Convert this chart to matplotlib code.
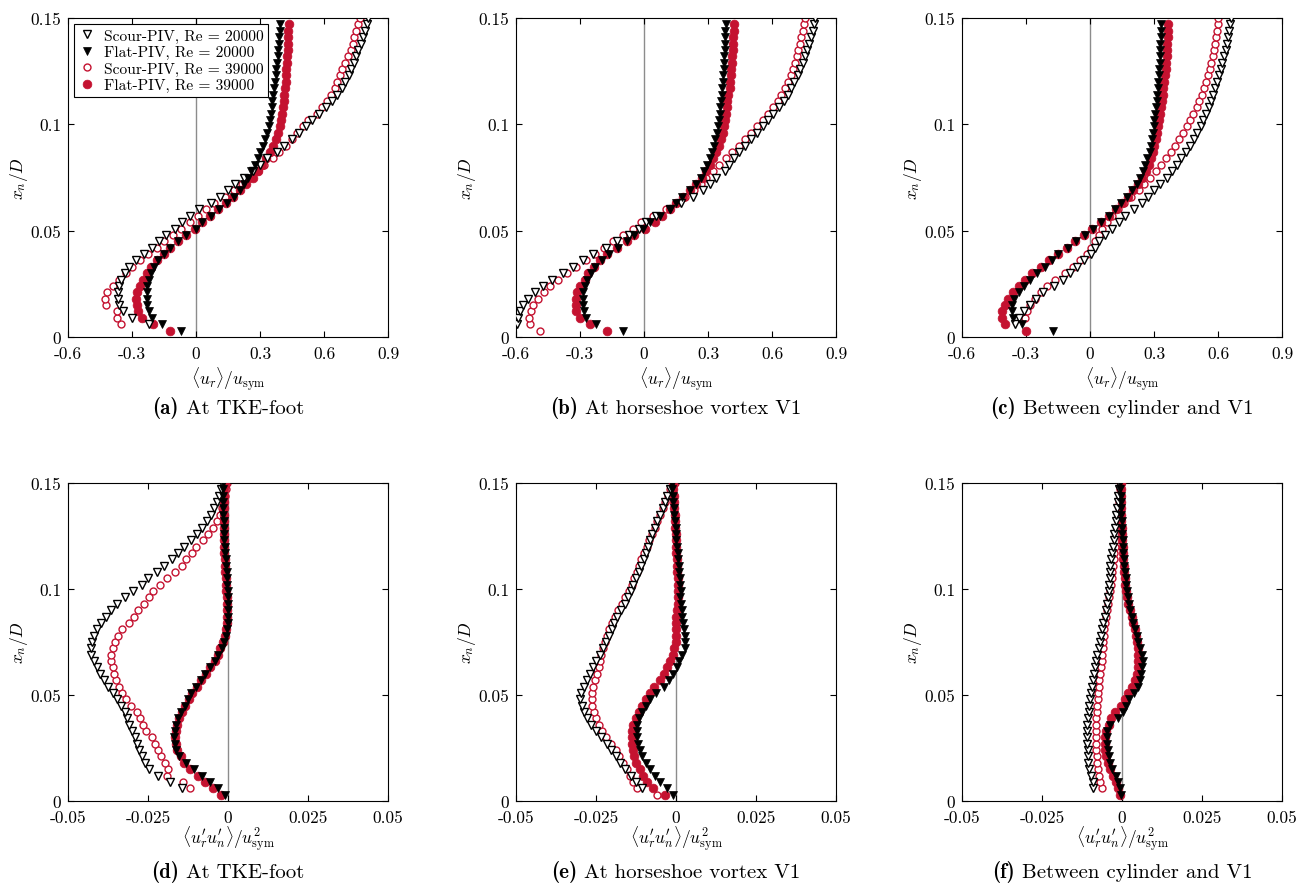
import numpy as np
import matplotlib
matplotlib.use('Agg')
import matplotlib.pyplot as plt
from matplotlib.offsetbox import TextArea, HPacker, AnnotationBbox

plt.rcParams['font.family'] = 'serif'
plt.rcParams['font.serif'] = ['cmr10']
plt.rcParams['mathtext.fontset'] = 'cm'
plt.rcParams['axes.unicode_minus'] = False
plt.rcParams['axes.formatter.use_mathtext'] = True

nan = np.nan

# wall-normal positions x_n/D (shared grid)
xn = [0.003, 0.006, 0.009, 0.012, 0.015, 0.018, 0.021, 0.024, 0.027, 0.030,
      0.033, 0.036, 0.039, 0.042, 0.045, 0.048, 0.051, 0.054, 0.057, 0.060,
      0.063, 0.066, 0.069, 0.072, 0.075, 0.078, 0.081, 0.084, 0.087, 0.090,
      0.093, 0.096, 0.099, 0.102, 0.105, 0.108, 0.111, 0.114, 0.117, 0.120,
      0.123, 0.126, 0.129, 0.132, 0.135, 0.138, 0.141, 0.144, 0.147, 0.150]

# (a) <u_r>/u_sym at TKE-foot
a_scour20 = [nan, -0.22, -0.3, -0.34, -0.362, -0.367, -0.366, -0.36, -0.35, -0.335,
             -0.312, -0.28, -0.245, -0.208, -0.175, -0.14, -0.1, -0.065, -0.028, 0.015,
             0.07, 0.112, 0.148, 0.185, 0.225, 0.265, 0.3, 0.335, 0.378, 0.412,
             0.45, 0.485, 0.515, 0.545, 0.578, 0.61, 0.638, 0.662, 0.684, 0.698,
             0.715, 0.728, 0.74, 0.751, 0.761, 0.772, 0.784, 0.793, 0.801, 0.808]
a_flat20 = [-0.07, -0.16, -0.205, -0.22, -0.228, -0.232, -0.232, -0.228, -0.222, -0.212,
            -0.198, -0.178, -0.152, -0.12, -0.085, -0.045, 0.0, 0.03, 0.07, 0.11,
            0.145, 0.18, 0.205, 0.225, 0.245, 0.26, 0.275, 0.29, 0.302, 0.315,
            0.325, 0.333, 0.34, 0.345, 0.35, 0.354, 0.358, 0.362, 0.366, 0.37,
            0.374, 0.377, 0.38, 0.383, 0.386, 0.389, 0.391, 0.393, 0.395, nan]
a_scour39 = [nan, -0.35, -0.372, -0.372, -0.42, -0.427, -0.415, -0.39, -0.36, -0.33,
             -0.3, -0.262, -0.224, -0.184, -0.148, -0.11, -0.072, -0.03, 0.01, 0.045,
             0.085, 0.135, 0.18, 0.215, 0.255, 0.29, 0.32, 0.36, 0.39, 0.42,
             0.45, 0.475, 0.5, 0.527, 0.565, 0.59, 0.613, 0.635, 0.652, 0.662,
             0.673, 0.685, 0.7, 0.714, 0.727, 0.735, 0.742, 0.748, 0.758, 0.769]
a_flat39 = [-0.12, -0.2, -0.255, -0.27, -0.276, -0.28, -0.275, -0.264, -0.25, -0.232,
            -0.21, -0.182, -0.152, -0.12, -0.085, -0.045, -0.005, 0.028, 0.065, 0.105,
            0.14, 0.175, 0.205, 0.235, 0.265, 0.29, 0.31, 0.33, 0.348, 0.362,
            0.374, 0.384, 0.392, 0.398, 0.403, 0.407, 0.411, 0.414, 0.417, 0.42,
            0.422, 0.424, 0.426, 0.428, 0.429, 0.43, 0.432, 0.433, 0.434, nan]

# (b) <u_r>/u_sym at horseshoe vortex V1
b_scour20 = [nan, -0.595, -0.59, -0.582, -0.565, -0.542, -0.512, -0.473, -0.43, -0.38,
             -0.333, -0.288, -0.239, -0.178, -0.128, -0.072, -0.024, 0.011, 0.058, 0.12,
             0.172, 0.23, 0.275, 0.31, 0.339, 0.378, 0.4, 0.424, 0.447, 0.472,
             0.5, 0.532, 0.558, 0.582, 0.605, 0.632, 0.655, 0.673, 0.688, 0.704,
             0.72, 0.732, 0.744, 0.754, 0.764, 0.774, 0.782, 0.79, 0.796, 0.802]
b_flat20 = [-0.1, -0.223, -0.27, -0.28, -0.285, -0.286, -0.284, -0.278, -0.267, -0.25,
            -0.228, -0.198, -0.163, -0.12, -0.08, -0.045, -0.005, 0.027, 0.075, 0.12,
            0.148, 0.18, 0.215, 0.245, 0.269, 0.283, 0.296, 0.309, 0.318, 0.327,
            0.335, 0.341, 0.346, 0.35, 0.354, 0.358, 0.361, 0.364, 0.367, 0.37,
            0.372, 0.374, 0.375, 0.377, 0.378, 0.379, 0.38, 0.382, 0.383, nan]
b_scour39 = [-0.486, -0.535, -0.539, -0.532, -0.518, -0.498, -0.471, -0.442, -0.403, -0.362,
             -0.318, -0.272, -0.231, -0.188, -0.145, -0.098, -0.052, -0.012, 0.042, 0.105,
             0.152, 0.193, 0.235, 0.266, 0.292, 0.322, 0.35, 0.385, 0.412, 0.447,
             0.475, 0.503, 0.53, 0.56, 0.583, 0.605, 0.626, 0.644, 0.66, 0.675,
             0.688, 0.698, 0.707, 0.715, 0.722, 0.73, 0.738, 0.743, 0.748, 0.753]
b_flat39 = [-0.173, -0.255, -0.3, -0.317, -0.32, -0.318, -0.313, -0.302, -0.278, -0.262,
            -0.235, -0.205, -0.172, -0.128, -0.08, -0.045, 0.003, 0.05, 0.085, 0.12,
            0.152, 0.185, 0.215, 0.245, 0.27, 0.29, 0.31, 0.325, 0.338, 0.35,
            0.36, 0.368, 0.374, 0.379, 0.383, 0.387, 0.391, 0.395, 0.402, 0.404,
            0.407, 0.41, 0.412, 0.414, 0.416, 0.418, 0.419, 0.42, 0.422, nan]

# (c) <u_r>/u_sym between cylinder and V1
c_scour20 = [nan, -0.352, -0.335, -0.31, -0.283, -0.255, -0.22, -0.17, -0.125, -0.092,
             -0.06, -0.028, 0.005, 0.025, 0.044, 0.068, 0.103, 0.134, 0.165, 0.204,
             0.242, 0.271, 0.301, 0.33, 0.359, 0.384, 0.406, 0.428, 0.448, 0.469,
             0.486, 0.503, 0.518, 0.532, 0.546, 0.557, 0.568, 0.577, 0.586, 0.594,
             0.603, 0.612, 0.621, 0.63, 0.637, 0.643, 0.648, 0.653, 0.657, 0.661]
c_flat20 = [-0.172, -0.32, -0.359, -0.365, -0.365, -0.354, -0.334, -0.31, -0.283, -0.249,
            -0.212, -0.178, -0.148, -0.105, -0.066, -0.025, 0.013, 0.053, 0.09, 0.117,
            0.146, 0.172, 0.197, 0.219, 0.234, 0.249, 0.259, 0.269, 0.28, 0.286,
            0.291, 0.296, 0.299, 0.302, 0.306, 0.309, 0.312, 0.315, 0.318, 0.32,
            0.322, 0.324, 0.326, 0.327, 0.328, 0.33, 0.331, 0.332, 0.333, nan]
c_scour39 = [nan, nan, -0.305, -0.295, -0.28, -0.258, -0.232, -0.203, -0.163, -0.116,
             -0.078, -0.045, -0.016, 0.005, 0.023, 0.04, 0.056, 0.078, 0.103, 0.13,
             0.16, 0.193, 0.229, 0.255, 0.28, 0.311, 0.335, 0.358, 0.378, 0.397,
             0.419, 0.437, 0.455, 0.47, 0.484, 0.5, 0.512, 0.523, 0.534, 0.545,
             0.554, 0.562, 0.569, 0.576, 0.582, 0.587, 0.592, 0.595, 0.598, 0.6]
c_flat39 = [-0.302, -0.398, -0.411, -0.414, -0.4, -0.383, -0.36, -0.333, -0.305, -0.27,
            -0.232, -0.192, -0.152, -0.11, -0.068, -0.028, 0.01, 0.05, 0.088, 0.12,
            0.15, 0.178, 0.203, 0.226, 0.245, 0.261, 0.275, 0.285, 0.294, 0.301,
            0.308, 0.314, 0.319, 0.324, 0.328, 0.332, 0.336, 0.34, 0.344, 0.348,
            0.351, 0.354, 0.357, 0.359, 0.361, 0.363, 0.365, 0.366, 0.367, nan]

# (d) <u_r' u_n'>/u_sym^2 at TKE-foot
d_scour20 = [nan, -0.0145, -0.018, -0.022, -0.0248, -0.026, -0.0269, -0.0277, -0.0284, -0.0291,
             -0.03, -0.0308, -0.0315, -0.0323, -0.0334, -0.0346, -0.036, -0.0374, -0.0388, -0.04,
             -0.0409, -0.042, -0.0427, -0.0428, -0.0424, -0.0418, -0.0408, -0.0396, -0.0381, -0.0365,
             -0.0347, -0.0322, -0.0298, -0.027, -0.025, -0.0223, -0.02, -0.0176, -0.0157, -0.0137,
             -0.0115, -0.0096, -0.0081, -0.0066, -0.0054, -0.0043, -0.0034, -0.0027, -0.0022, -0.0018]
d_flat20 = [-0.0008, -0.003, -0.0056, -0.0082, -0.0106, -0.0132, -0.0152, -0.0162, -0.0167, -0.0168,
            -0.0167, -0.0163, -0.0156, -0.0146, -0.0135, -0.0125, -0.0116, -0.01, -0.0085, -0.0071,
            -0.0057, -0.004, -0.003, -0.002, -0.0012, -0.0006, -0.0003, -0.0001, 0.0, 0.0,
            0.0, 0.0, 0.0, -0.0002, -0.0003, -0.0004, -0.0005, -0.0007, -0.0008, -0.001,
            -0.0011, -0.0012, -0.0013, -0.0014, -0.0015, -0.0015, -0.0015, -0.0015, -0.0015, -0.0015]
d_scour39 = [nan, -0.0119, -0.014, -0.019, -0.0187, -0.0198, -0.0208, -0.0218, -0.0227, -0.0236,
             -0.0255, -0.0266, -0.0276, -0.0285, -0.0302, -0.0318, -0.0332, -0.0341, -0.0349, -0.0355,
             -0.036, -0.0365, -0.0366, -0.036, -0.0354, -0.0344, -0.033, -0.031, -0.0295, -0.028,
             -0.0263, -0.0248, -0.0234, -0.0211, -0.0192, -0.0165, -0.0145, -0.013, -0.0114, -0.0101,
             -0.0079, -0.0062, -0.0047, -0.0035, -0.0024, -0.0018, -0.0012, -0.0009, -0.0006, -0.0004]
d_flat39 = [-0.0022, -0.0046, -0.0072, -0.0095, -0.0118, -0.0138, -0.0148, -0.0158, -0.0163, -0.0165,
            -0.0164, -0.016, -0.0152, -0.0143, -0.0133, -0.0123, -0.0113, -0.0098, -0.0083, -0.0068,
            -0.0055, -0.0042, -0.0032, -0.0024, -0.0016, -0.001, -0.0006, -0.0004, -0.0003, -0.0003,
            -0.0003, -0.0004, -0.0005, -0.0006, -0.0007, -0.0008, -0.0009, -0.001, -0.0011, -0.0012,
            -0.0012, -0.0013, -0.0013, -0.0013, -0.0013, -0.0012, -0.0012, -0.0012, -0.0011, -0.001]

# (e) <u_r' u_n'>/u_sym^2 at horseshoe vortex V1
e_scour20 = [nan, -0.0105, -0.0125, -0.014, -0.016, -0.0176, -0.0188, -0.0202, -0.0217, -0.0235,
             -0.025, -0.0265, -0.0278, -0.0287, -0.0295, -0.03, -0.0298, -0.0288, -0.0279, -0.0268,
             -0.0259, -0.0249, -0.0238, -0.0228, -0.0219, -0.021, -0.0201, -0.0193, -0.0183, -0.0171,
             -0.0159, -0.015, -0.0141, -0.0133, -0.0124, -0.0116, -0.0108, -0.0101, -0.0094, -0.0088,
             -0.0082, -0.0075, -0.0067, -0.0058, -0.005, -0.0042, -0.0034, -0.0027, -0.0019, -0.0012]
e_flat20 = [-0.0009, -0.0027, -0.005, -0.0067, -0.0081, -0.0095, -0.0105, -0.0113, -0.0119, -0.0122,
            -0.0123, -0.0122, -0.0115, -0.0105, -0.0094, -0.0081, -0.0063, -0.0039, -0.0022, -0.001,
            0.0002, 0.001, 0.002, 0.0028, 0.0029, 0.0027, 0.0025, 0.0022, 0.002, 0.0018,
            0.0015, 0.0014, 0.0016, 0.0014, 0.0012, 0.001, 0.0009, 0.0007, 0.0005, 0.0003,
            0.0001, 0.0, -0.0001, -0.0003, -0.0005, -0.0007, -0.0008, -0.001, -0.0011, -0.0012]
e_scour39 = [-0.006, -0.0123, -0.0133, -0.0144, -0.0154, -0.0165, -0.0177, -0.0188, -0.0203, -0.0218,
             -0.0231, -0.0242, -0.0249, -0.0257, -0.0262, -0.0263, -0.0263, -0.026, -0.0252, -0.0246,
             -0.0242, -0.0237, -0.0233, -0.0228, -0.0222, -0.0215, -0.0208, -0.0201, -0.0191, -0.0182,
             -0.017, -0.0158, -0.0147, -0.0139, -0.0131, -0.0123, -0.0117, -0.011, -0.0101, -0.0092,
             -0.0083, -0.0075, -0.0066, -0.0058, -0.005, -0.0041, -0.0033, -0.0026, -0.002, -0.0002]
e_flat39 = [-0.0035, -0.0072, -0.009, -0.0102, -0.0112, -0.0124, -0.013, -0.0134, -0.0137, -0.0138,
            -0.0137, -0.0133, -0.0125, -0.0115, -0.0105, -0.0094, -0.0082, -0.007, -0.005, -0.0038,
            -0.0029, -0.0018, -0.001, -0.0005, 0.0, 0.0, 0.0, 0.0, 0.0, 0.0002,
            0.0005, 0.0006, 0.0006, 0.0006, 0.0005, 0.0004, 0.0003, 0.0002, 0.0001, 0.0,
            0.0, -0.0001, -0.0002, -0.0003, -0.0004, -0.0005, -0.0006, -0.0007, -0.0008, -0.0008]

# (f) <u_r' u_n'>/u_sym^2 between cylinder and V1
f_scour20 = [nan, -0.0092, -0.009, -0.0097, -0.0102, -0.0105, -0.0105, -0.0107, -0.0108, -0.011,
             -0.0109, -0.0108, -0.0106, -0.0104, -0.0102, -0.0099, -0.0096, -0.0093, -0.009, -0.0087,
             -0.0083, -0.008, -0.0077, -0.0073, -0.0069, -0.0066, -0.0062, -0.0058, -0.0054, -0.005,
             -0.0047, -0.0044, -0.0042, -0.004, -0.0038, -0.0037, -0.0036, -0.0033, -0.003, -0.0028,
             -0.0026, -0.0024, -0.0022, -0.002, -0.0018, -0.0016, -0.0014, -0.0012, -0.001, -0.0009]
f_flat20 = [-0.0004, -0.0006, -0.0012, -0.0019, -0.0032, -0.0037, -0.004, -0.0044, -0.0047, -0.0048,
            -0.0046, -0.0036, -0.0014, 0.0002, 0.0013, 0.0023, 0.0037, 0.0049, 0.0055, 0.006,
            0.0063, 0.0065, 0.0062, 0.0056, 0.0051, 0.0046, 0.004, 0.0035, 0.003, 0.0026,
            0.0021, 0.0018, 0.0015, 0.0013, 0.0011, 0.0009, 0.0007, 0.0005, 0.0004, 0.0003,
            0.0002, 0.0001, 0.0, -0.0001, -0.0002, -0.0003, -0.0003, -0.0004, -0.0005, -0.0005]
f_scour39 = [nan, -0.0063, -0.0068, -0.0072, -0.0075, -0.0077, -0.0079, -0.0081, -0.0082, -0.0082,
             -0.0082, -0.0082, -0.0081, -0.0079, -0.0078, -0.0076, -0.0074, -0.0072, -0.0071, -0.0069,
             -0.0066, -0.0064, -0.0062, -0.006, -0.0059, -0.0057, -0.0055, -0.0052, -0.0049, -0.0046,
             -0.0043, -0.004, -0.0037, -0.0034, -0.0032, -0.003, -0.0028, -0.0026, -0.0024, -0.0022,
             -0.002, -0.0018, -0.0016, -0.0014, -0.0012, -0.001, -0.0008, -0.0006, -0.0005, -0.0004]
f_flat39 = [-0.0005, -0.0012, -0.002, -0.0029, -0.0037, -0.0045, -0.005, -0.0052, -0.0053, -0.0053,
            -0.005, -0.0042, -0.0034, -0.0022, -0.0004, 0.0009, 0.0019, 0.003, 0.004, 0.0046,
            0.0049, 0.0051, 0.0051, 0.0049, 0.0047, 0.0045, 0.0041, 0.0035, 0.003, 0.0026,
            0.002, 0.0016, 0.0013, 0.001, 0.0008, 0.0006, 0.0005, 0.0004, 0.0003, 0.0002,
            0.0001, 0.0, -0.0001, -0.0002, -0.0002, -0.0003, -0.0003, -0.0004, -0.0004, -0.0004]

captions = ['At TKE-foot', 'At horseshoe vortex V1', 'Between cylinder and V1']
letters = ['a', 'b', 'c', 'd', 'e', 'f']

mean_ticks = [-0.6, -0.3, 0, 0.3, 0.6, 0.9]
mean_ticklabels = ['-0.6', '-0.3', '0', '0.3', '0.6', '0.9']
stress_ticks = [-0.05, -0.025, 0, 0.025, 0.05]
stress_ticklabels = ['-0.05', '-0.025', '0', '0.025', '0.05']
y_ticks = [0, 0.05, 0.1, 0.15]
y_ticklabels = ['0', '0.05', '0.1', '0.15']

red = '#c41230'

panels = [
    (a_scour20, a_flat20, a_scour39, a_flat39),
    (b_scour20, b_flat20, b_scour39, b_flat39),
    (c_scour20, c_flat20, c_scour39, c_flat39),
    (d_scour20, d_flat20, d_scour39, d_flat39),
    (e_scour20, e_flat20, e_scour39, e_flat39),
    (f_scour20, f_flat20, f_scour39, f_flat39),
]

fig = plt.figure(figsize=(13.09, 8.87), dpi=100)
W, H = 1309, 887
lefts = [68, 516, 962]

for i, (s20, f20, s39, f39) in enumerate(panels):
    row, col = divmod(i, 3)
    if row == 0:
        top, bottom = 19, 338
    else:
        top, bottom = 484, 802
    ax = fig.add_axes([lefts[col] / W, 1 - bottom / H, 320 / W, (bottom - top) / H])

    ax.axvline(0, color='0.55', lw=1.0, zorder=0)

    h39s, = ax.plot(s39, xn, ls='none', marker='o', ms=5.0, mfc='white', mec=red, mew=1.0, zorder=2)
    h39f, = ax.plot(f39, xn, ls='none', marker='o', ms=6.3, mfc=red, mec=red, mew=0.5, zorder=3)
    h20s, = ax.plot(s20, xn, ls='none', marker='v', ms=5.4, mfc='white', mec='black', mew=1.0, zorder=4)
    h20f, = ax.plot(f20, xn, ls='none', marker='v', ms=6.0, mfc='black', mec='black', mew=0.5, zorder=5)

    ax.set_ylim(0, 0.15)
    ax.set_yticks(y_ticks)
    ax.set_yticklabels(y_ticklabels)
    if row == 0:
        ax.set_xlim(-0.6, 0.9)
        ax.set_xticks(mean_ticks)
        ax.set_xticklabels(mean_ticklabels)
        ax.set_xlabel(r'$\langle u_r \rangle / u_{\rm sym}$', fontsize=12.5)
        ax.xaxis.set_label_coords(0.5, -0.088)
    else:
        ax.set_xlim(-0.05, 0.05)
        ax.set_xticks(stress_ticks)
        ax.set_xticklabels(stress_ticklabels)
        ax.set_xlabel(r"$\langle u_r' u_n' \rangle / u_{\rm sym}^2$", fontsize=12.5)
        ax.xaxis.set_label_coords(0.5, -0.07)
    ax.set_ylabel(r'$x_n/D$', fontsize=12.5)
    ax.yaxis.set_label_coords(-0.118, 0.5)
    ax.tick_params(direction='in', top=True, right=True, length=4.5, width=0.8, labelsize=12.5)
    ax.tick_params(axis='x', pad=6)
    ax.tick_params(axis='y', pad=5)
    for sp in ax.spines.values():
        sp.set_linewidth(0.8)

    # caption: bold letter + plain text
    lab = TextArea('(' + letters[i] + ')', textprops=dict(family='cmb10', size=15))
    txt = TextArea(captions[col], textprops=dict(size=15))
    box = HPacker(children=[lab, txt], align='baseline', pad=0, sep=5)
    ab = AnnotationBbox(box, (0.5, -0.22), xycoords='axes fraction', frameon=False,
                        box_alignment=(0.5, 0.5), annotation_clip=False)
    ax.add_artist(ab)

    if i == 0:
        leg = ax.legend([h20s, h20f, h39s, h39f],
                        ['Scour-PIV, Re = 20000', 'Flat-PIV, Re = 20000',
                         'Scour-PIV, Re = 39000', 'Flat-PIV, Re = 39000'],
                        loc='upper left', fontsize=11.2, fancybox=False, framealpha=1,
                        edgecolor='black', handlelength=1.0, handletextpad=0.6,
                        borderpad=0.3, labelspacing=0.15, borderaxespad=0.4)
        leg.get_frame().set_linewidth(0.8)

fig.savefig('out.png', dpi=100)
